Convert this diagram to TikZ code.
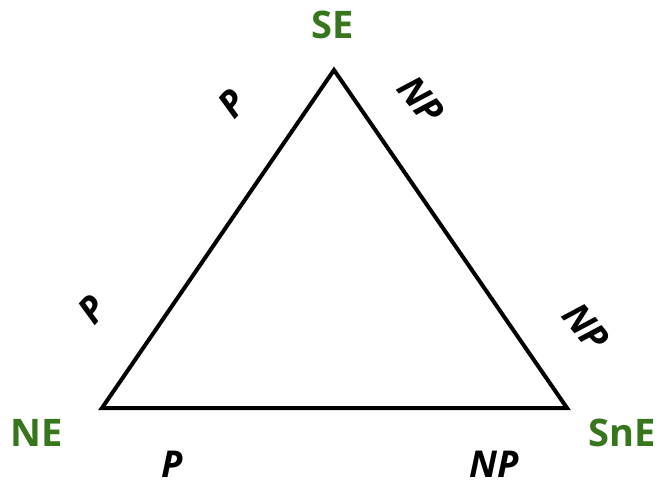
\documentclass[tikz,border=0pt]{standalone}
\usepackage{fontspec}
\setmainfont{Open Sans}
\definecolor{lblgreen}{HTML}{38761D}
\begin{document}
\begin{tikzpicture}[x=1pt,y=-1pt,
  vert/.style={font=\fontsize{38}{38}\selectfont\bfseries, text=lblgreen, inner sep=0pt},
  rel/.style={font=\fontsize{37}{37}\selectfont\bfseries\itshape, text=black, inner sep=0pt},
  edge/.style={line width=4pt, line join=miter}]
\useasboundingbox (0,0) rectangle (662,484);
\coordinate (T) at (334,70);
\coordinate (L) at (102,408);
\coordinate (R) at (567,408);
\draw[edge] (T) -- (R) -- (L) -- cycle;
\node[vert] (se) at (333,25) {SE};
\node[vert] (ne) at (37,433) {NE};
\node[vert] (sne) at (622,433) {SnE};
\node[rel, rotate=48] (p1) at (232,104) {P};
\node[rel, rotate=48] (p2) at (92,310) {P};
\node[rel, rotate=-50] (np1) at (421,100) {NP};
\node[rel, rotate=-50] (np2) at (586,327) {NP};
\node[rel] (p3) at (172,464) {P};
\node[rel] (np3) at (494,464) {NP};
\end{tikzpicture}
\end{document}
